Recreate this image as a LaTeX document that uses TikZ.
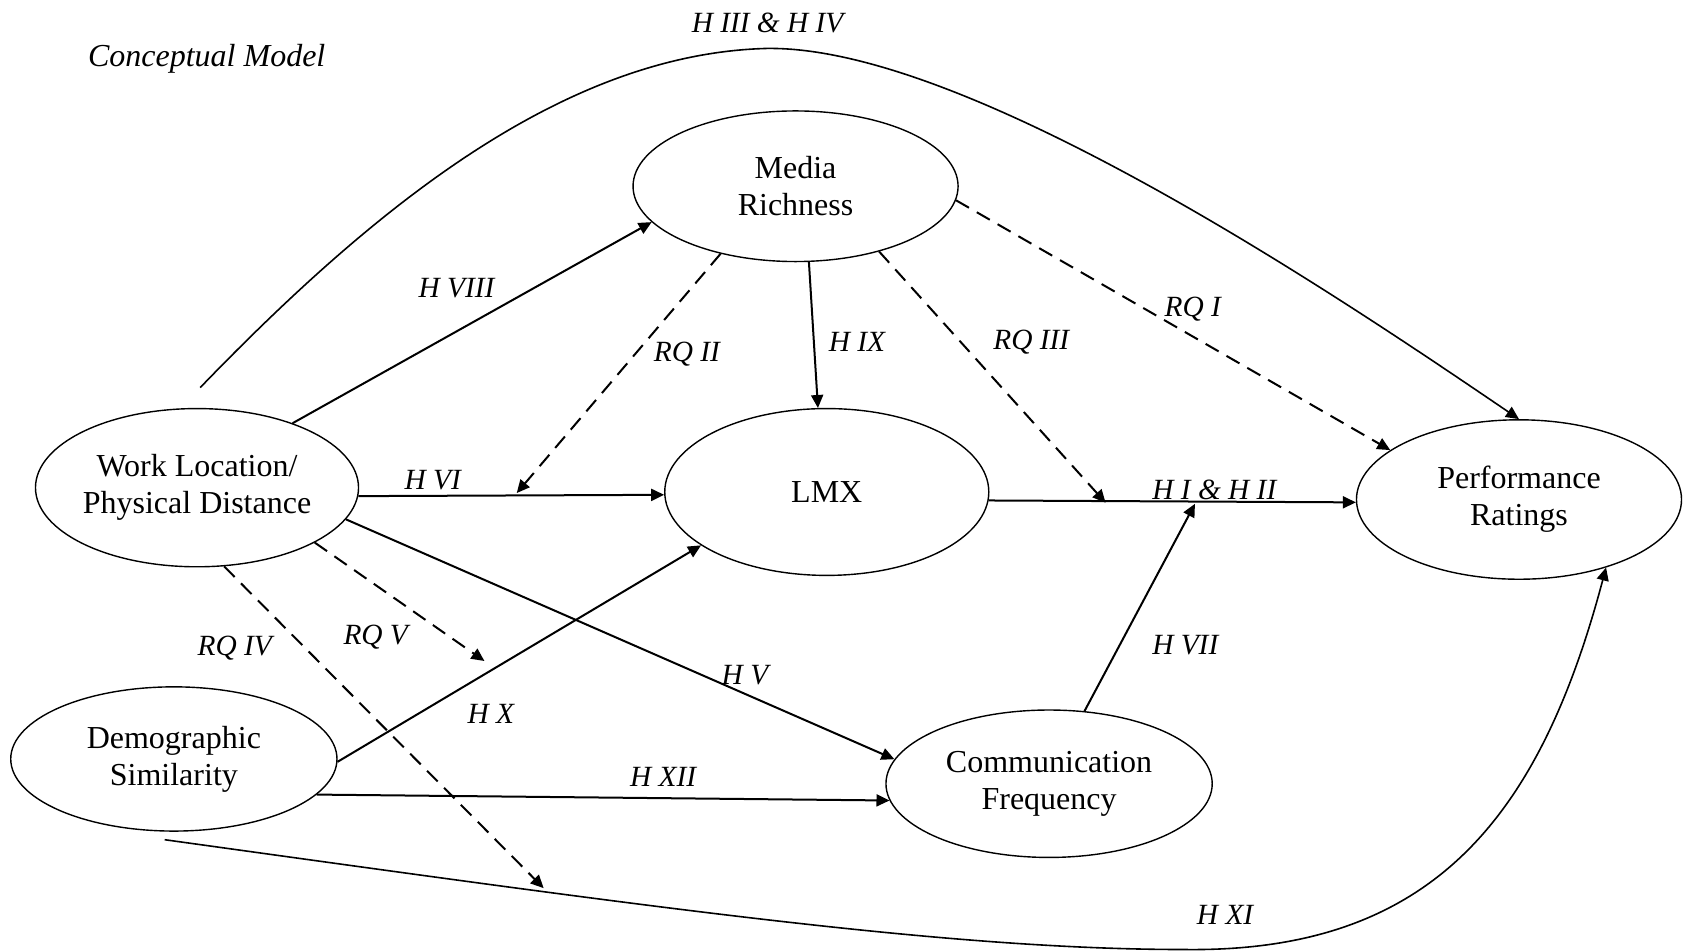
\documentclass[tikz,border=0pt]{standalone}
\usepackage{fontspec}
\setmainfont{Liberation Serif}
\usetikzlibrary{arrows.meta,shapes.geometric}
\begin{document}
\begin{tikzpicture}[x=0.5382pt,y=-0.5382pt,
  box/.style={ellipse,draw,line width=0.7pt,inner sep=0pt,align=center,font=\fontsize{16}{18.4}\selectfont},
  lab/.style={font=\fontsize{14.67}{17}\selectfont\itshape,inner sep=0pt},
  arr/.style={line width=1pt,-{Triangle[length=6.5pt,width=6pt]}},
  darr/.style={arr,dash pattern=on 7.5pt off 4.5pt},
  curv/.style={line width=0.8pt,-{Triangle[length=6.5pt,width=6pt]}}]
\useasboundingbox (0,0) rectangle (1568,883);
% nodes
\node[box,minimum width=161.5pt,minimum height=79.1pt] (wl) at (183,453) {Work Location/\\Physical Distance};
\node[box,minimum width=163.1pt,minimum height=72.1pt] (ds) at (161.5,705) {Demographic\\Similarity};
\node[box,minimum width=162.5pt,minimum height=75.3pt] (mr) at (739,173) {Media\\Richness};
\node[box,minimum width=162pt,minimum height=83.4pt] (lmx) at (768,457) {LMX};
\node[box,minimum width=162.5pt,minimum height=79.7pt] (pr) at (1411,464) {Performance\\Ratings};
\node[box,minimum width=163.1pt,minimum height=73.7pt] (cf) at (974.5,728) {Communication\\Frequency};
% title
\node[font=\fontsize{16}{18.4}\selectfont\itshape,inner sep=0pt] (title) at (192,55) {Conceptual Model};
% free ends
\coordinate (c34) at (186,360);
\coordinate (h11s) at (153,780);
\coordinate (rq2e) at (480,458);
\coordinate (rq3e) at (1027,467);
\coordinate (h7e) at (1110,468);
\coordinate (rq5e) at (450,614);
\coordinate (rq4e) at (505,825);
% connectors
\draw[curv] (c34) .. controls (350,190) and (525,50) .. (712,45) .. controls (900,42) and (1250,280) .. (pr.north);
\draw[arr] (wl.34.4) -- (mr.194.1);
\draw[arr] (wl.-3) -- (lmx.181);
\draw[darr] (mr.222) -- (rq2e);
\draw[arr] (mr.-80) -- (lmx.96);
\draw[darr] (mr.-38) -- (rq3e);
\draw[darr] (mr.-5.7) -- (pr.159.6);
\draw[arr] (lmx.-3) -- (pr.181);
\draw[arr] (cf.64) -- (h7e);
\draw[arr] (wl.-12) -- (cf.171.8);
\draw[darr] (wl.-25) -- (rq5e);
\draw[darr] (wl.-71.6) -- (rq4e);
\draw[arr] (ds.-1.5) -- (lmx.203.4);
\draw[arr] (ds.-14.4) -- (cf.186.4);
\draw[curv] (h11s) .. controls (600,842) and (880,882) .. (1100,882) .. controls (1330,885) and (1430,760) .. (pr.-38.3);
% labels
\node[lab] (l34) at (713,21) {H III \& H IV};
\node[lab] (l8) at (424,268) {H VIII};
\node[lab] (lq2) at (638,329) {RQ II};
\node[lab] (l9) at (796,318) {H IX};
\node[lab] (lq3) at (958,318) {RQ III};
\node[lab] (lq1) at (1108,287) {RQ I};
\node[lab] (l6) at (402,446) {H VI};
\node[lab] (l12) at (1128,455) {H I \& H II};
\node[lab] (lq4) at (218,602) {RQ IV};
\node[lab] (lq5) at (349,592) {RQ V};
\node[lab] (l5) at (692,627) {H V};
\node[lab] (l7) at (1101,599) {H VII};
\node[lab] (l10) at (456,663) {H X};
\node[lab] (l12b) at (616,722) {H XII};
\node[lab] (l11) at (1138,850) {H XI};
\end{tikzpicture}
\end{document}
